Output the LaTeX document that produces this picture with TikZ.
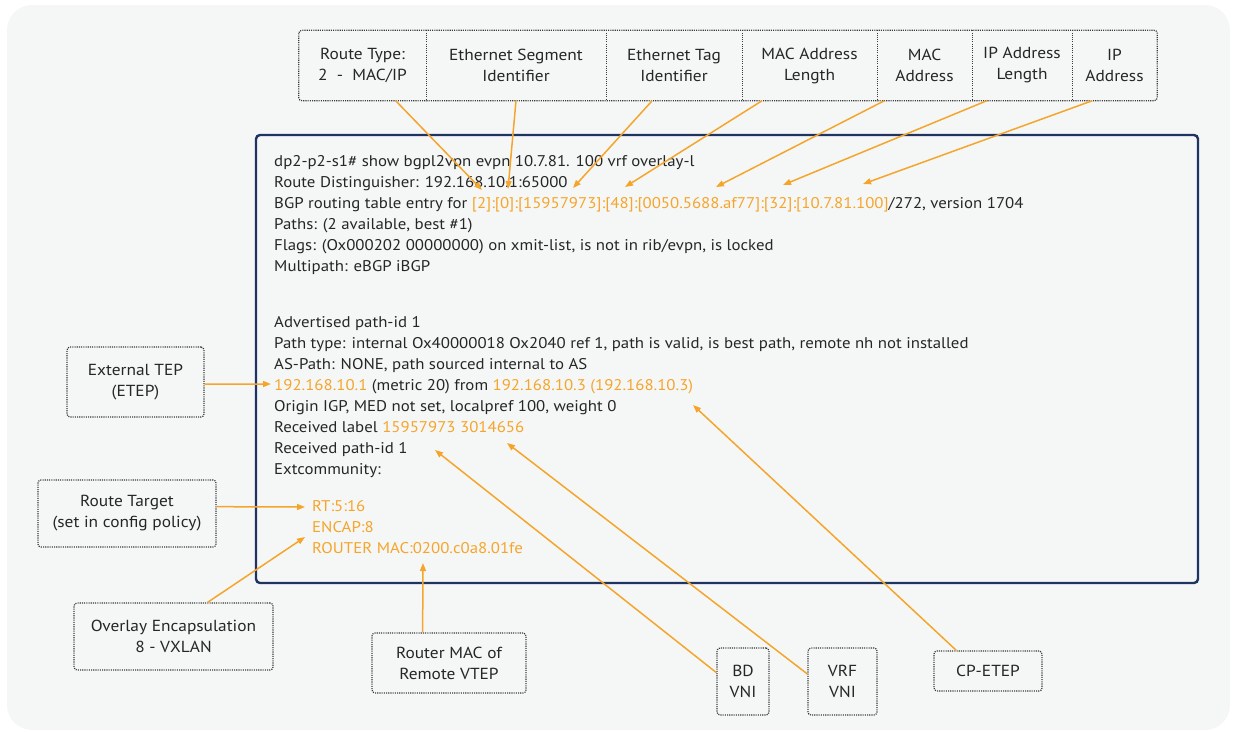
\documentclass[tikz,border=0pt]{standalone}
\usepackage{fontspec}
\setmainfont{PT Sans}[FakeStretch=1.085]
\usetikzlibrary{arrows.meta,calc}
\definecolor{bgpanel}{HTML}{F5F7F7}
\definecolor{navy}{HTML}{1F3461}
\definecolor{amber}{HTML}{F6A52B}
\definecolor{ink}{HTML}{262626}
\definecolor{dotc}{HTML}{3A3A3A}
\newcommand{\hl}[1]{\textcolor{amber}{#1}}

\begin{document}
\begin{tikzpicture}[x=1pt,y=-1pt,
  every node/.style={font=\fontsize{15.5}{21}\selectfont, text=ink},
  code/.style={anchor=base west, inner sep=0pt},
  dotline/.style={draw=dotc, line width=1.2pt, dash pattern=on 1.1pt off 1.1pt},
  tag/.style={dotline, rounded corners=3pt, align=center, inner sep=0pt, font=\fontsize{16}{21}\selectfont},
  cell/.style={minimum height=70pt, inner sep=0pt, align=center, font=\fontsize{16}{21}\selectfont},
  pointer/.style={draw=amber, line width=1.5pt, -{Triangle[length=8pt,width=6pt]}},
]
\useasboundingbox (0,0) rectangle (1233,731);
\fill[bgpanel, rounded corners=25pt] (7,5) rectangle (1230,730);

% field header row of the EVPN route-type 2 prefix
\node[cell, minimum width=127pt] (c1) at (362.5,65.5) {Route Type:\\2 \ - \ MAC/IP};
\node[cell, minimum width=180pt] (c2) at (516,65.5) {Ethernet Segment\\Identifier};
\node[cell, minimum width=136pt] (c3) at (674,65.5) {Ethernet Tag\\Identifier};
\node[cell, minimum width=135pt] (c4) at (809.5,65.5) {MAC Address\\Length};
\node[cell, minimum width=95pt] (c5) at (924.5,65.5) {MAC\\Address};
\node[cell, minimum width=100pt] (c6) at (1022,65.5) {IP Address\\Length};
\node[cell, minimum width=85pt] (c7) at (1114.5,65.5) {IP\\Address};
\draw[dotline, rounded corners=3pt] (c1.north west) rectangle (c7.south east);
\foreach \c in {c1,c2,c3,c4,c5,c6}
  \draw[dotline] (\c.north east) -- (\c.south east);

% CLI output panel
\node[draw=navy, line width=2.4pt, rounded corners=4pt, minimum width=942pt, minimum height=448pt, inner sep=0pt] (panel) at (727,359) {};

\node[code] (l1) at (274,166) {dp2-p2-s1\# show bgpl2vpn evpn 10.7.81. 100 vrf overlay-l};
\node[code] (l2) at (274,187) {Route Distinguisher: 192.168.10.1:65000};
\node[code] (l3) at (274,208) {BGP routing table entry for \hl{[2]:[0]:[15957973]:[48]:[0050.5688.af77]:[32]:[10.7.81.100]}/272, version 1704};
\node[code] (l4) at (274,229) {Paths: (2 available, best \#1)};
\node[code] (l5) at (274,250) {Flags: (Ox000202 00000000) on xmit-list, is not in rib/evpn, is locked};
\node[code] (l6) at (274,271) {Multipath: eBGP iBGP};
\node[code] (l7) at (274,327.5) {Advertised path-id 1};
\node[code] (l8) at (274,348.5) {Path type: internal Ox40000018 Ox2040 ref 1, path is valid, is best path, remote nh not installed};
\node[code] (l9) at (274,369.5) {AS-Path: NONE, path sourced internal to AS};
\node[code] (l10) at (274,390.5) {\hl{192.168.10.1} (metric 20) from \hl{192.168.10.3 (192.168.10.3)}};
\node[code] (l11) at (274,411.5) {Origin IGP, MED not set, localpref 100, weight 0};
\node[code] (l12) at (274,432.5) {Received label \hl{15957973 3014656}};
\node[code] (l13) at (274,453.5) {Received path-id 1};
\node[code] (l14) at (274,474.5) {Extcommunity:};
\node[code, text=amber] (l15) at (312,511) {RT:5:16};
\node[code, text=amber] (l16) at (312,532) {ENCAP:8};
\node[code, text=amber] (l17) at (312,553) {ROUTER MAC:0200.c0a8.01fe};

% annotation boxes
\node[tag, minimum width=137pt, minimum height=70pt] (etep) at (135.5,382) {External TEP\\(ETEP)};
\node[tag, minimum width=178pt, minimum height=67pt] (rt) at (127,513.5) {Route Target\\(set in config policy)};
\node[tag, minimum width=199pt, minimum height=67pt] (encap) at (173.5,636.5) {Overlay Encapsulation\\8 - VXLAN};
\node[tag, minimum width=154pt, minimum height=60pt] (rmac) at (449,663) {Router MAC of\\Remote VTEP};
\node[tag, minimum width=52pt, minimum height=67pt] (bd) at (743,681.5) {BD\\VNI};
\node[tag, minimum width=69pt, minimum height=67pt] (vrf) at (842.5,681.5) {VRF\\VNI};
\node[tag, minimum width=108pt, minimum height=40pt] (cp) at (988,671) {CP-ETEP};

% arrow targets inside the CLI text
\coordinate (t1) at (482,190);
\coordinate (t2) at (508,189);
\coordinate (t3) at (573,188);
\coordinate (t4) at (625,187);
\coordinate (t5) at (716,187);
\coordinate (t6) at (783,185);
\coordinate (t7) at (863,184);
\coordinate (tetep) at (271,384);
\coordinate (trt) at (305,507);
\coordinate (tencap) at (305,537);
\coordinate (trmac) at (423,563);
\coordinate (tbd) at (435,450);
\coordinate (tvrf) at (507,443);
\coordinate (tcp) at (693,405);

% connectors
\draw[pointer] ($(c1.south west)!0.76!(c1.south east)$) -- (t1);
\draw[pointer] ($(c2.south west)!0.5!(c2.south east)$) -- (t2);
\draw[pointer] ($(c3.south west)!0.34!(c3.south east)$) -- (t3);
\draw[pointer] ($(c4.south west)!0.15!(c4.south east)$) -- (t4);
\draw[pointer] ($(c5.south west)!0.08!(c5.south east)$) -- (t5);
\draw[pointer] ($(c6.south west)!0.15!(c6.south east)$) -- (t6);
\draw[pointer] ($(c7.south west)!0.24!(c7.south east)$) -- (t7);
\draw[pointer] ($(etep.north east)!0.53!(etep.south east)$) -- (tetep);
\draw[pointer] ($(rt.north east)!0.4!(rt.south east)$) -- (trt);
\draw[pointer] ($(encap.north west)!0.67!(encap.north east)$) -- (tencap);
\draw[pointer] ($(rmac.north west)!0.33!(rmac.north east)$) -- (trmac);
\draw[pointer] ($(bd.north west)!0.37!(bd.south west)$) -- (tbd);
\draw[pointer] ($(vrf.north west)!0.39!(vrf.south west)$) -- (tvrf);
\draw[pointer] ($(cp.north west)!0.21!(cp.north east)$) -- (tcp);
\end{tikzpicture}
\end{document}
